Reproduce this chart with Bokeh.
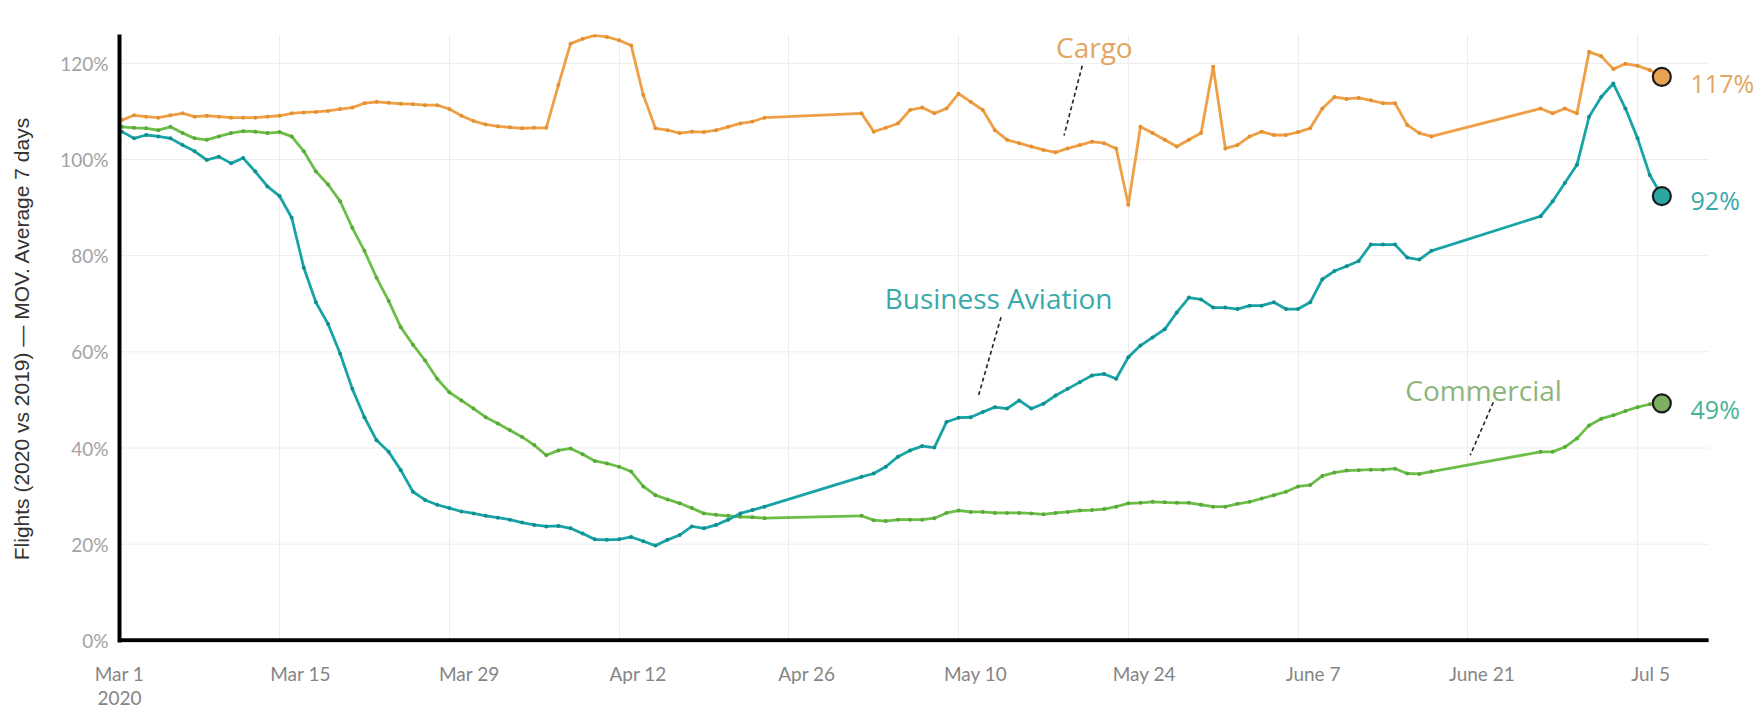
import pandas as pd
from bokeh.plotting import figure
from bokeh.models import FixedTicker, Label, LinearAxis
from bokeh.embed import file_html
from bokeh.resources import INLINE

# ---------------- data ----------------
origin = pd.Timestamp("2020-03-01")
dates = (list(pd.date_range("2020-03-02", "2020-04-24"))
         + list(pd.date_range("2020-05-02", "2020-06-18"))
         + list(pd.date_range("2020-06-27", "2020-07-07")))

cargo = [
    108.2, 109.2, 108.9, 108.7, 109.2, 109.6, 108.9, 109.1, 108.9, 108.7,
    108.7, 108.7, 108.9, 109.1, 109.6, 109.8, 109.9, 110.1, 110.5, 110.8,
    111.7, 112.0, 111.8, 111.6, 111.5, 111.3, 111.3, 110.5, 109.1, 108.0,
    107.3, 106.9, 106.7, 106.5, 106.6, 106.6, 115.5, 124.1, 125.1, 125.8,
    125.5, 124.8, 123.7, 113.4, 106.5, 106.1, 105.5, 105.8, 105.7, 106.1,
    106.8, 107.5, 107.9, 108.7,
    109.6, 105.8, 106.6, 107.5, 110.3, 110.8, 109.6, 110.6, 113.7, 112.0,
    110.3, 106.1, 104.1, 103.4, 102.7, 102.0, 101.5, 102.3, 103.0, 103.7,
    103.4, 102.3, 90.6, 106.8, 105.5, 104.1, 102.7, 104.1, 105.5, 119.3,
    102.3, 103.0, 104.8, 105.8, 105.1, 105.1, 105.7, 106.5, 110.6, 113.0,
    112.6, 112.8, 112.3, 111.7, 111.7, 107.2, 105.5, 104.8,
    110.6, 109.6, 110.6, 109.6, 122.4, 121.5, 118.8, 119.9, 119.5, 118.6, 117.2,
]

business = [
    105.8, 104.4, 105.1, 104.8, 104.4, 103.0, 101.7, 99.9, 100.6, 99.2,
    100.3, 97.5, 94.4, 92.4, 87.9, 77.5, 70.3, 65.8, 59.6, 52.3,
    46.4, 41.6, 39.2, 35.4, 30.9, 29.2, 28.2, 27.5, 26.8, 26.4,
    25.9, 25.5, 25.1, 24.5, 24.0, 23.7, 23.8, 23.3, 22.2, 21.0,
    20.9, 21.0, 21.5, 20.6, 19.7, 20.9, 21.9, 23.7, 23.3, 24.0,
    25.1, 26.4, 27.1, 27.8,
    34.0, 34.7, 36.1, 38.2, 39.5, 40.4, 40.1, 45.4, 46.3, 46.4,
    47.5, 48.5, 48.2, 49.9, 48.2, 49.2, 50.9, 52.3, 53.7, 55.1,
    55.4, 54.4, 58.9, 61.3, 63.0, 64.7, 68.2, 71.3, 70.9, 69.2,
    69.2, 68.9, 69.6, 69.6, 70.3, 68.9, 68.9, 70.3, 75.1, 76.8,
    77.8, 78.9, 82.3, 82.3, 82.3, 79.6, 79.2, 81.0,
    88.2, 91.3, 95.1, 98.9, 108.9, 113.0, 115.8, 110.6, 104.4, 96.8, 92.4,
]

commercial = [
    106.8, 106.6, 106.5, 106.1, 106.8, 105.5, 104.4, 104.1, 104.8, 105.5,
    105.9, 105.8, 105.5, 105.7, 104.8, 101.7, 97.5, 94.8, 91.3, 85.8,
    81.0, 75.4, 70.6, 65.1, 61.5, 58.2, 54.4, 51.6, 49.9, 48.2,
    46.4, 45.1, 43.7, 42.3, 40.6, 38.5, 39.5, 39.9, 38.7, 37.3,
    36.8, 36.1, 35.1, 32.0, 30.2, 29.3, 28.5, 27.5, 26.4, 26.1,
    25.9, 25.7, 25.6, 25.4,
    25.9, 25.0, 24.8, 25.1, 25.1, 25.1, 25.4, 26.5, 27.0, 26.7,
    26.7, 26.5, 26.5, 26.5, 26.4, 26.2, 26.5, 26.7, 27.0, 27.1,
    27.3, 27.8, 28.5, 28.6, 28.8, 28.7, 28.6, 28.6, 28.2, 27.8,
    27.8, 28.4, 28.8, 29.5, 30.2, 30.9, 32.0, 32.3, 34.2, 34.9,
    35.3, 35.4, 35.5, 35.5, 35.7, 34.7, 34.6, 35.1,
    39.2, 39.2, 40.2, 42.0, 44.7, 46.1, 46.8, 47.7, 48.5, 49.1, 49.3,
]

tick_dates = ["2020-03-01", "2020-03-15", "2020-03-29", "2020-04-12", "2020-04-26",
              "2020-05-10", "2020-05-24", "2020-06-07", "2020-06-21", "2020-07-05"]
tick_labels = ["Mar 1", "Mar 15", "Mar 29", "Apr 12", "Apr 26",
               "May 10", "May 24", "June 7", "June 21", "Jul 5"]
year_label = "2020"
y_ticks = [0, 20, 40, 60, 80, 100, 120]
y_tick_labels = ["0%", "20%", "40%", "60%", "80%", "100%", "120%"]
y_title = "Flights (2020 vs 2019) \u2014 MOV. Average 7 days"

# ---------------- styling ----------------
C_CARGO, C_BA, C_COM = "#EFA046", "#18A4A6", "#6CBE48"
C_CARGO_D, C_BA_D, C_COM_D = "#E3912F", "#0F8F90", "#58AA38"
T_CARGO, T_BA, T_COM, T_COM_VAL = "#E1A663", "#3AA9A9", "#8BB57A", "#4AB394"
M_CARGO, M_BA, M_COM = "#E9A154", "#2AA7A0", "#7DB062"
TICK_GRAY = "#858585"

x = [(d - origin).days for d in dates]
tick_days = [(pd.Timestamp(t) - origin).days for t in tick_dates]

X_START = 0.8          # left spine
AXIS_END = 131.86      # where the drawn bottom axis stops
FRAME_END = 135.89     # frame reaches the figure edge so end labels are not clipped

p = figure(width=1757, height=711, x_range=(X_START, FRAME_END), y_range=(-0.45, 126),
           output_backend="svg", toolbar_location=None,
           min_border_left=119, min_border_right=0, min_border_top=34, min_border_bottom=69)
p.outline_line_color = None
p.background_fill_color = "white"

# x axis: labels sit slightly right of their grid lines (as in the source)
label_pos = []
for i, d in enumerate(tick_days):
    if i == 0:
        label_pos.append(float(X_START))
    else:
        label_pos.append(round(d + (21.0 - (i - 1) * 1.0) / 12.125, 3))

xa = p.xaxis[0]
xa.ticker = FixedTicker(ticks=label_pos)
xa.major_label_overrides = {pos: lab for pos, lab in zip(label_pos, tick_labels)}
xa.axis_line_color = None
xa.major_tick_line_color = None
xa.minor_tick_line_color = None
xa.major_tick_out = 0
xa.minor_tick_out = 0
xa.major_label_text_font = "Lato"
xa.major_label_text_font_size = "19px"
xa.major_label_text_color = TICK_GRAY
xa.major_label_standoff = 19

# second row under the first date label: the year
xa2 = LinearAxis(ticker=FixedTicker(ticks=[float(X_START)]),
                 major_label_overrides={float(X_START): year_label},
                 axis_line_color=None, major_tick_line_color=None, minor_tick_line_color=None,
                 major_tick_out=0, minor_tick_out=0, major_label_standoff=3,
                 major_label_text_font="Lato", major_label_text_font_size="19px",
                 major_label_text_color=TICK_GRAY)
p.add_layout(xa2, "below")

p.xgrid.ticker = FixedTicker(ticks=tick_days)
p.xgrid.grid_line_color = "#ececec"

yax = p.yaxis[0]
yax.ticker = FixedTicker(ticks=y_ticks)
yax.major_label_overrides = {t: lab for t, lab in zip(y_ticks, y_tick_labels)}
yax.major_tick_line_color = None
yax.minor_tick_line_color = None
yax.major_tick_out = 0
yax.minor_tick_out = 0
yax.axis_line_color = "black"
yax.axis_line_width = 4
yax.major_label_text_font = "Lato"
yax.major_label_text_font_size = "19px"
yax.major_label_text_color = "#a3a3a3"
yax.major_label_standoff = 11
yax.axis_label = y_title
yax.axis_label_text_font = "Liberation Sans"
yax.axis_label_text_font_size = "21px"
yax.axis_label_text_font_style = "normal"
yax.axis_label_text_color = "#333333"
yax.axis_label_standoff = 24
p.ygrid.grid_line_color = None

# horizontal grid lines, stopping where the bottom axis stops
gy = y_ticks[1:]
p.segment(x0=[X_START] * len(gy), y0=gy, x1=[AXIS_END] * len(gy), y1=gy,
          line_color="#ececec", line_width=1, level="underlay")

# ---------------- lines ----------------
for vals, lc, mc in ((cargo, C_CARGO, C_CARGO_D), (commercial, C_COM, C_COM_D), (business, C_BA, C_BA_D)):
    p.line(x, vals, line_color=lc, line_width=2.8, line_join="round")
    p.scatter(x, vals, size=4, fill_color=mc, line_color=None)

# bottom axis line
p.segment(x0=[X_START], y0=[0], x1=[AXIS_END], y1=[0], line_color="black", line_width=4)

# end markers + value labels
for vals, fc in ((cargo, M_CARGO), (business, M_BA), (commercial, M_COM)):
    p.scatter([x[-1]], [vals[-1]], size=18, fill_color=fc, line_color="#1b1b1b", line_width=2.2)

for vals, tc, dy in ((cargo, T_CARGO, -1.2), (business, T_BA, -0.9), (commercial, T_COM_VAL, -1.1)):
    p.add_layout(Label(x=x[-1] + 2.37, y=vals[-1] + dy, text=f"{round(vals[-1])}%", text_align="left",
                       text_baseline="alphabetic", text_font="Open Sans", text_font_size="25px",
                       text_color=tc))

# series name annotations with dashed leaders
ann = [
    ("Cargo", 81.2, 123.3, T_CARGO, (80.2, 119.5), (78.7, 105.0)),
    ("Business Aviation", 73.3, 71.3, T_BA, (73.5, 67.2), (71.6, 50.5)),
    ("Commercial", 113.3, 52.0, T_COM, (114.1, 49.5), (112.2, 38.5)),
]
for name, ax_, ay_, col, a, b in ann:
    p.add_layout(Label(x=ax_, y=ay_, text=name, text_align="center", text_baseline="alphabetic",
                       text_font="Open Sans", text_font_size="28px", text_color=col))
    p.segment(x0=[a[0]], y0=[a[1]], x1=[b[0]], y1=[b[1]], line_color="#222222",
              line_width=1.6, line_dash="4 3")

open("out.html", "w").write(file_html(p, INLINE))
